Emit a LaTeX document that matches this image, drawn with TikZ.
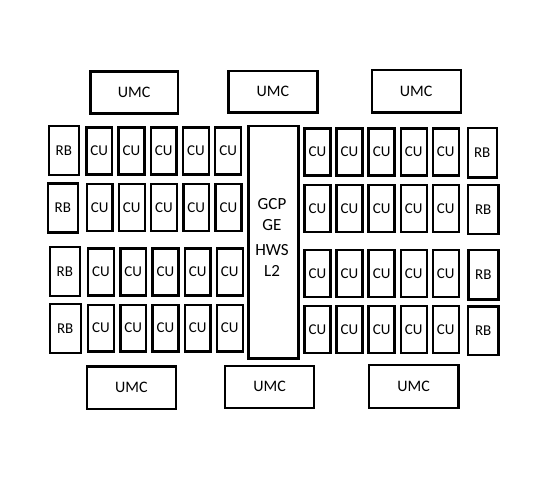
\documentclass[tikz,border=0pt]{standalone}
\usepackage{fontspec}
\setmainfont{Carlito}
\begin{document}
\begin{tikzpicture}[x=1pt,y=-1pt,
  box/.style={draw=black, line width=2.4pt, inner sep=0pt, anchor=north west, text=black, fill=white},
  cubox/.style={box, font=\fontsize{15}{18}\selectfont},
  umcbox/.style={box, font=\fontsize{16}{19}\selectfont},
  mtext/.style={inner sep=0pt, align=center, text=black, font=\fontsize{17}{20.8}\selectfont}]
\useasboundingbox[fill=white] (0,0) rectangle (545,477);
% top memory controllers
\node[umcbox, minimum width=87.6pt, minimum height=41.9pt] (umct1) at (89.2,70.2) {UMC};
\node[umcbox, minimum width=88.9pt, minimum height=41.8pt] (umct2) at (227.2,69.5) {UMC};
\node[umcbox, minimum width=89pt, minimum height=42.6pt] (umct3) at (370.5,68.5) {UMC};
% bottom memory controllers
\node[umcbox, minimum width=89.3pt, minimum height=42.6pt] (umcb1) at (85.5,365.2) {UMC};
\node[umcbox, minimum width=88.9pt, minimum height=42.3pt] (umcb2) at (223.9,364.5) {UMC};
\node[umcbox, minimum width=89.2pt, minimum height=42.6pt] (umcb3) at (367.9,363.9) {UMC};
% center block
\node[box, minimum width=49.9pt, minimum height=232.6pt] (center) at (247.2,124.5) {};
\node[mtext] (centertext) at (272,237.6) {GCP\\GE\\[4pt]HWS\\L2};
% left CUs
\foreach \r/\t/\x in {1/125/84, 2/181.7/84.3, 3/246/85.7, 4/302.3/85.7}
  \foreach \i in {1,...,5}
    \node[cubox, minimum width=25.8pt, minimum height=46.9pt] (lcu\r\i) at ({\x+(\i-1)*32.2+1.2},{\t+1.2}) {CU};
% right CUs
\foreach \r/\t in {1/126, 2/182.3, 3/247.7, 4/303.3}
  \foreach \i in {1,...,5}
    \node[cubox, minimum width=26pt, minimum height=47.1pt] (rcu\r\i) at ({302+(\i-1)*32.1+1.2},{\t+1.2}) {CU};
% left RBs
\foreach \r/\x/\y/\w/\h in {1/47.9/124.5/29.6/49.3, 2/46.9/182.2/29.6/48.9, 3/48.5/245.5/30.3/49.3, 4/48.5/302.9/31/48.6}
  \node[cubox, minimum width=\w pt, minimum height=\h pt] (lrb\r) at (\x,\y) {RB};
% right RBs
\foreach \r/\x/\y/\w/\h in {1/466.5/126.5/29/49.6, 2/466.9/183.9/30.2/48.9, 3/467.2/248.5/29.9/49.6, 4/466.9/305.2/30.2/48.6}
  \node[cubox, minimum width=\w pt, minimum height=\h pt] (rrb\r) at (\x,\y) {RB};
\end{tikzpicture}
\end{document}
